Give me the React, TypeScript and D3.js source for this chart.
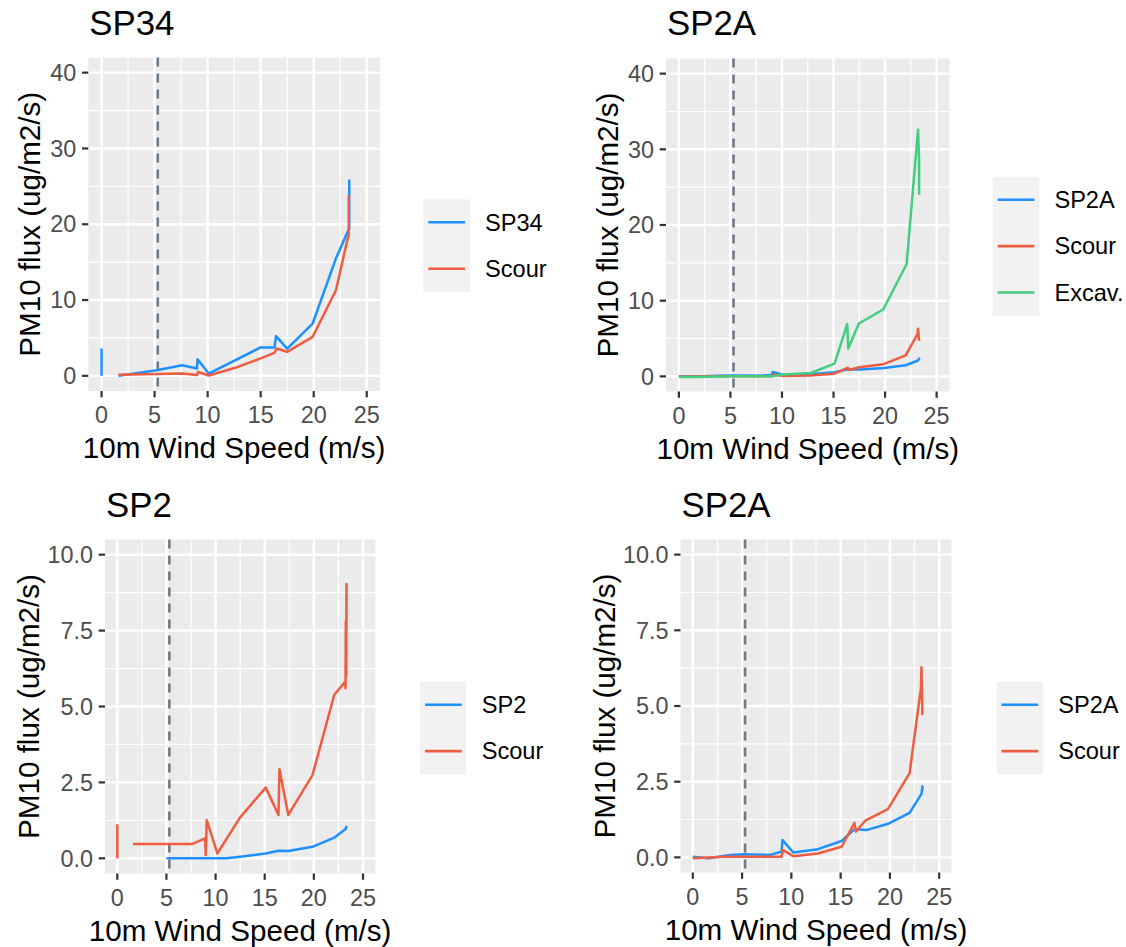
import React from "react";
import * as d3 from "d3";

// ---------- data ----------
const xTicks = [0, 5, 10, 15, 20, 25];
const xMinor = [2.5, 7.5, 12.5, 17.5, 22.5];
const yTicksTop = [0, 10, 20, 30, 40];
const yMinorTop = [5, 15, 25, 35];
const yTicksBottom = [0, 2.5, 5, 7.5, 10];
const yMinorBottom = [1.25, 3.75, 6.25, 8.75];
const thresholdSpeed = 5.3;

// SP34 panel
const sp34X = [0, 0, null, 1.6, 5.2, 7.6, 9.0, 9.05, 10.1, 15.0, 16.3, 16.45, 17.5, 19.9, 22.1, 23.2, 23.35, 23.35];
const sp34Y = [0, 3.6, null, 0, 0.75, 1.4, 0.97, 2.2, 0.3, 3.75, 3.75, 5.24, 3.6, 6.9, 15.5, 19.0, 19.4, 25.9];
const sp34ScourX = [0, 0, null, 1.6, 7.6, 9.0, 9.1, 10.1, 12.6, 15.0, 16.3, 16.5, 17.5, 19.9, 22.1, 23.2, 23.3, 23.3];
const sp34ScourY = [0, 0.05, null, 0.15, 0.3, 0.1, 0.5, 0.05, 1.06, 2.3, 3.04, 3.6, 3.17, 5.15, 11.3, 18.1, 18.5, 23.85];

// SP2A panels
const sp2aX = [0, 1.6, 3.8, 5.2, 7.8, 9.0, 9.1, 10.2, 12.7, 15.1, 16.3, 16.6, 17.6, 19.9, 22.0, 23.2, 23.3, 23.3];
const sp2aY = [0.02, -0.03, 0.08, 0.1, 0.08, 0.19, 0.57, 0.16, 0.27, 0.54, 0.9, 0.93, 0.9, 1.12, 1.47, 2.1, 2.35, 2.2];
const sp2aScourX = [0, 3.2, 9.0, 9.15, 10.2, 12.7, 15.1, 16.4, 16.55, 17.5, 19.8, 22.0, 23.15, 23.2, 23.3];
const sp2aScourY = [-0.03, 0.02, 0.02, 0.24, 0.04, 0.13, 0.35, 1.14, 0.85, 1.21, 1.59, 2.78, 5.6, 6.28, 4.7];
const excavX = [0, 1.6, 5.2, 9.05, 10.1, 12.8, 15.1, 16.33, 16.43, 17.46, 19.82, 22.09, 23.2, 23.3, 23.3];
const excavY = [-0.1, -0.1, 0, 0, 0.25, 0.44, 1.68, 6.9, 3.67, 6.99, 8.84, 14.85, 32.6, 28.5, 24.0];

// SP2 panel
const sp2X = [5.0, 11.1, 12.5, 15.1, 16.4, 17.4, 19.86, 22.07, 23.26, 23.3];
const sp2Y = [0, 0, 0.05, 0.16, 0.25, 0.24, 0.38, 0.68, 0.97, 1.07];
const sp2ScourX = [0, 0, null, 1.6, 7.6, 8.93, 9.0, 9.1, 10.18, 12.5, 15.1, 16.4, 16.5, 17.4, 19.86, 22.07, 23.2, 23.22, 23.25, 23.3, 23.32];
const sp2ScourY = [0, 1.12, null, 0.47, 0.47, 0.66, 0.11, 1.26, 0.16, 1.35, 2.33, 1.43, 2.93, 1.43, 2.74, 5.38, 5.82, 5.6, 7.8, 6.0, 9.07];

// ---------- styles ----------
const BLUE = "#1E90FF";
const RED = "#EE5C42";
const GREEN = "#43CD80";
const FONT = "'Liberation Sans', Arial, Helvetica, sans-serif";

type Series = { name: string; color: string; xs: (number | null)[]; ys: (number | null)[] };

type PanelCfg = {
  title: string;
  left: number; right: number; top: number; bottom: number;
  yDomain: [number, number];
  yTicks: number[]; yMinor: number[]; yFmt: (v: number) => string;
  titleY: number; yTitleX: number;
  legendX: number; legendY: number; legendW: number;
  series: Series[];
};

const fmtInt = (v: number) => String(v);
const fmt1 = (v: number) => v.toFixed(1);

const panels: PanelCfg[] = [
  {
    title: "SP34", left: 88.3, right: 380, top: 57.5, bottom: 391,
    yDomain: [-2, 42], yTicks: yTicksTop, yMinor: yMinorTop, yFmt: fmtInt,
    titleY: 35, yTitleX: 40, legendX: 423.3, legendY: 199.3, legendW: 46.7,
    series: [
      { name: "SP34", color: BLUE, xs: sp34X, ys: sp34Y },
      { name: "Scour", color: RED, xs: sp34ScourX, ys: sp34ScourY },
    ],
  },
  {
    title: "SP2A", left: 666, right: 949.5, top: 58.5, bottom: 391.5,
    yDomain: [-2, 42], yTicks: yTicksTop, yMinor: yMinorTop, yFmt: fmtInt,
    titleY: 35, yTitleX: 618, legendX: 992.7, legendY: 176.7, legendW: 46.6,
    series: [
      { name: "SP2A", color: BLUE, xs: sp2aX, ys: sp2aY },
      { name: "Scour", color: RED, xs: sp2aScourX, ys: sp2aScourY },
      { name: "Excav.", color: GREEN, xs: excavX, ys: excavY },
    ],
  },
  {
    title: "SP2", left: 105, right: 375.3, top: 539.5, bottom: 873.5,
    yDomain: [-0.5, 10.5], yTicks: yTicksBottom, yMinor: yMinorBottom, yFmt: fmt1,
    titleY: 517, yTitleX: 39, legendX: 420, legendY: 681.7, legendW: 46,
    series: [
      { name: "SP2", color: BLUE, xs: sp2X, ys: sp2Y },
      { name: "Scour", color: RED, xs: sp2ScourX, ys: sp2ScourY },
    ],
  },
  {
    title: "SP2A", left: 680.5, right: 951.5, top: 539.5, bottom: 872.5,
    yDomain: [-0.5, 10.5], yTicks: yTicksBottom, yMinor: yMinorBottom, yFmt: fmt1,
    titleY: 517, yTitleX: 615, legendX: 996.5, legendY: 681.7, legendW: 46.5,
    series: [
      { name: "SP2A", color: BLUE, xs: sp2aX, ys: sp2aY },
      { name: "Scour", color: RED, xs: sp2aScourX, ys: sp2aScourY },
    ],
  },
];

function Panel({ cfg }: { cfg: PanelCfg }) {
  const x = d3.scaleLinear().domain([-1.25, 26.25]).range([cfg.left, cfg.right]);
  const y = d3.scaleLinear().domain(cfg.yDomain).range([cfg.bottom, cfg.top]);
  const line = d3
    .line<[number | null, number | null]>()
    .defined((d) => d[0] != null && d[1] != null)
    .x((d) => x(d[0] as number))
    .y((d) => y(d[1] as number));
  const w = cfg.right - cfg.left;
  const h = cfg.bottom - cfg.top;
  const cy = (cfg.top + cfg.bottom) / 2;
  const cx = (cfg.left + cfg.right) / 2;
  const keyGap = 46.4;
  const legendH = 22.5 + keyGap * (cfg.series.length - 1) + 24;
  return (
    <g>
      <text x={cfg.left + 1} y={cfg.titleY} fontSize={34.8} fontFamily={FONT} fill="#000">
        {cfg.title}
      </text>
      <rect x={cfg.left} y={cfg.top} width={w} height={h} fill="#EBEBEB" />
      {xMinor.map((v) => (
        <line key={"xm" + v} x1={x(v)} x2={x(v)} y1={cfg.top} y2={cfg.bottom} stroke="#fff" strokeWidth={1.2} />
      ))}
      {cfg.yMinor.map((v) => (
        <line key={"ym" + v} x1={cfg.left} x2={cfg.right} y1={y(v)} y2={y(v)} stroke="#fff" strokeWidth={1.2} />
      ))}
      {xTicks.map((v) => (
        <line key={"xM" + v} x1={x(v)} x2={x(v)} y1={cfg.top} y2={cfg.bottom} stroke="#fff" strokeWidth={2.4} />
      ))}
      {cfg.yTicks.map((v) => (
        <line key={"yM" + v} x1={cfg.left} x2={cfg.right} y1={y(v)} y2={y(v)} stroke="#fff" strokeWidth={2.4} />
      ))}
      <line
        x1={x(thresholdSpeed)} x2={x(thresholdSpeed)} y1={cfg.top} y2={cfg.bottom}
        stroke="#6E7B8B" strokeWidth={2.6} strokeDasharray="9,7"
      />
      {cfg.series.map((s) => (
        <path
          key={s.name}
          d={line(d3.zip(s.xs, s.ys) as [number | null, number | null][]) || ""}
          fill="none" stroke={s.color} strokeWidth={2.5} strokeLinejoin="round"
        />
      ))}
      {xTicks.map((v) => (
        <g key={"xt" + v}>
          <line x1={x(v)} x2={x(v)} y1={cfg.bottom} y2={cfg.bottom + 6.3} stroke="#333" strokeWidth={2.2} />
          <text x={x(v)} y={cfg.bottom + 32} textAnchor="middle" fontSize={23.4} fontFamily={FONT} fill="#4D4D4D">
            {v}
          </text>
        </g>
      ))}
      {cfg.yTicks.map((v) => (
        <g key={"yt" + v}>
          <line x1={cfg.left - 6.3} x2={cfg.left} y1={y(v)} y2={y(v)} stroke="#333" strokeWidth={2.2} />
          <text x={cfg.left - 12} y={y(v) + 8.2} textAnchor="end" fontSize={23.4} fontFamily={FONT} fill="#4D4D4D">
            {cfg.yFmt(v)}
          </text>
        </g>
      ))}
      <text x={cx} y={cfg.bottom + 67} textAnchor="middle" fontSize={29.6} fontFamily={FONT} fill="#000">
        10m Wind Speed (m/s)
      </text>
      <text
        transform={`translate(${cfg.yTitleX},${cy}) rotate(-90)`}
        textAnchor="middle" fontSize={29.6} fontFamily={FONT} fill="#000"
      >
        PM10 flux (ug/m2/s)
      </text>
      <rect x={cfg.legendX} y={cfg.legendY} width={cfg.legendW} height={legendH} fill="#F2F2F2" />
      {cfg.series.map((s, i) => {
        const ky = cfg.legendY + 23 + i * keyGap;
        return (
          <g key={"lg" + s.name}>
            <line x1={cfg.legendX + 5} x2={cfg.legendX + 41.7} y1={ky} y2={ky} stroke={s.color} strokeWidth={2.6} />
            <text x={cfg.legendX + 61.7} y={ky + 8.3} fontSize={23.6} fontFamily={FONT} fill="#000">
              {s.name}
            </text>
          </g>
        );
      })}
    </g>
  );
}

export default function App() {
  return (
    <svg
      width={1126}
      height={947}
      style={{ position: "absolute", left: 0, top: 0, display: "block", background: "#fff" }}
    >
      <rect x={0} y={0} width={1126} height={947} fill="#fff" />
      {panels.map((p, i) => (
        <Panel key={i} cfg={p} />
      ))}
    </svg>
  );
}
